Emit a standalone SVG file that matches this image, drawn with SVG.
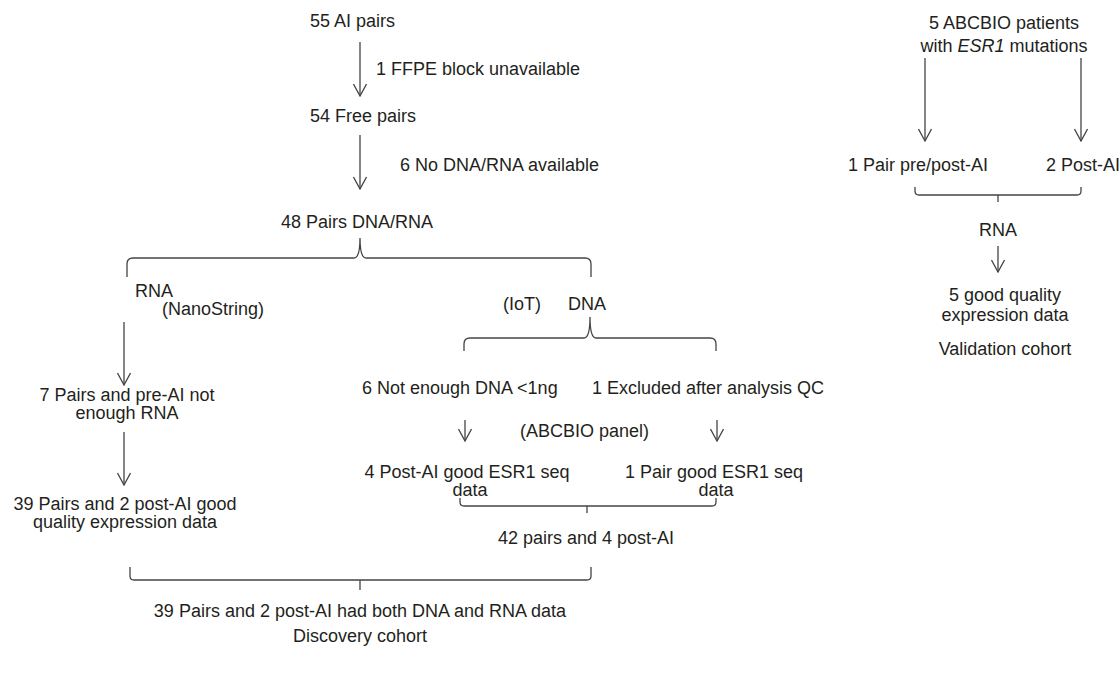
<svg xmlns="http://www.w3.org/2000/svg" width="1120" height="673" viewBox="0 0 1120 673">
<style>
text{font-family:"Liberation Sans",Arial,Helvetica,sans-serif;font-size:18px;fill:#231f20}
.m{text-anchor:middle}
.e{text-anchor:end}
.ln{fill:none;stroke:#444;stroke-width:1.3}
.ar{fill:none;stroke:#444;stroke-width:1.3;marker-end:url(#ah)}
</style>
<defs>
<marker id="ah" viewBox="-13 -7 14 14" refX="0" refY="0" markerWidth="14" markerHeight="14" markerUnits="userSpaceOnUse" orient="auto">
<path d="M-12,-6.5 L0,0 L-12,6.5" fill="none" stroke="#444" stroke-width="1.3"/>
</marker>
</defs>
<rect width="1120" height="673" fill="#fff"/>
<g id="connectors">
<line class="ar" x1="360" y1="42" x2="360" y2="96"/>
<line class="ar" x1="360" y1="135" x2="360" y2="189"/>
<path class="ln" d="M127,277 L127,264 Q127,258 133,258 L354,258 Q360,258 360,238 Q360,258 366,258 L585,258 Q591,258 591,264 L591,277"/>
<line class="ar" x1="124" y1="322" x2="124" y2="385"/>
<line class="ar" x1="124" y1="432" x2="124" y2="485"/>
<path class="ln" d="M464,351 L464,344 Q464,338 470,338 L584,338 Q590,338 590,317 Q590,338 596,338 L710,338 Q716,338 716,344 L716,351"/>
<line class="ar" x1="465" y1="420" x2="465" y2="441"/>
<line class="ar" x1="717" y1="420" x2="717" y2="441"/>
<path class="ln" d="M460,498 L460,502 Q460,506 464,506 L587,506 L712,506 Q716,506 716,502 L716,498 M587,506 L587,513"/>
<path class="ln" d="M130,567 L130,576 Q130,580 134,580 L587,580 Q591,580 591,576 L591,567 M360,580 L360,590"/>
<line class="ar" x1="925" y1="58" x2="925" y2="141"/>
<line class="ar" x1="1081" y1="58" x2="1081" y2="141"/>
<path class="ln" d="M915,187 L915,191 Q915,195 919,195 L1077,195 Q1081,195 1081,191 L1081,187 M998,195 L998,202"/>
<line class="ar" x1="998" y1="246" x2="998" y2="272"/>
</g>
<g id="n-55"><text x="310" y="27">55 AI pairs</text></g>
<g id="n-ffpe"><text x="376" y="75">1 FFPE block unavailable</text></g>
<g id="n-54"><text x="310" y="122">54 Free pairs</text></g>
<g id="n-nodna"><text x="400" y="171">6 No DNA/RNA available</text></g>
<g id="n-48"><text x="281" y="228">48 Pairs DNA/RNA</text></g>
<g id="n-rna"><text x="135" y="297">RNA</text><text x="162" y="315">(NanoString)</text></g>
<g id="n-7"><text class="m" x="127" y="401">7 Pairs and pre-AI not</text><text class="m" x="127" y="419">enough RNA</text></g>
<g id="n-39rna"><text class="m" x="125" y="510">39 Pairs and 2 post-AI good</text><text class="m" x="125" y="528">quality expression data</text></g>
<g id="n-dna"><text x="503" y="310">(IoT)</text><text x="568" y="310">DNA</text></g>
<g id="n-6not"><text x="362" y="394">6 Not enough DNA &lt;1ng</text></g>
<g id="n-1excl"><text x="592" y="394">1 Excluded after analysis QC</text></g>
<g id="n-panel"><text x="520" y="437">(ABCBIO panel)</text></g>
<g id="n-4post"><text class="m" x="467" y="478">4 Post-AI good ESR1 seq</text><text class="m" x="470" y="496">data</text></g>
<g id="n-1pair"><text class="m" x="714" y="478">1 Pair good ESR1 seq</text><text class="m" x="716" y="496">data</text></g>
<g id="n-42"><text class="m" x="586" y="544">42 pairs and 4 post-AI</text></g>
<g id="n-39both"><text class="m" x="360" y="617">39 Pairs and 2 post-AI had both DNA and RNA data</text></g>
<g id="n-discovery"><text class="m" x="360" y="642">Discovery cohort</text></g>
<g id="n-abcbio"><text class="m" x="1004" y="29">5 ABCBIO patients</text><text class="m" x="1004" y="52">with <tspan font-style="italic">ESR1</tspan> mutations</text></g>
<g id="n-pairpp"><text class="e" x="988" y="171">1 Pair pre/post-AI</text></g>
<g id="n-2post"><text x="1046" y="171">2 Post-AI</text></g>
<g id="n-rna2"><text class="m" x="998" y="236">RNA</text></g>
<g id="n-5good"><text class="m" x="1005" y="301">5 good quality</text><text class="m" x="1005" y="321">expression data</text></g>
<g id="n-valid"><text class="m" x="1005" y="355">Validation cohort</text></g>
</svg>
